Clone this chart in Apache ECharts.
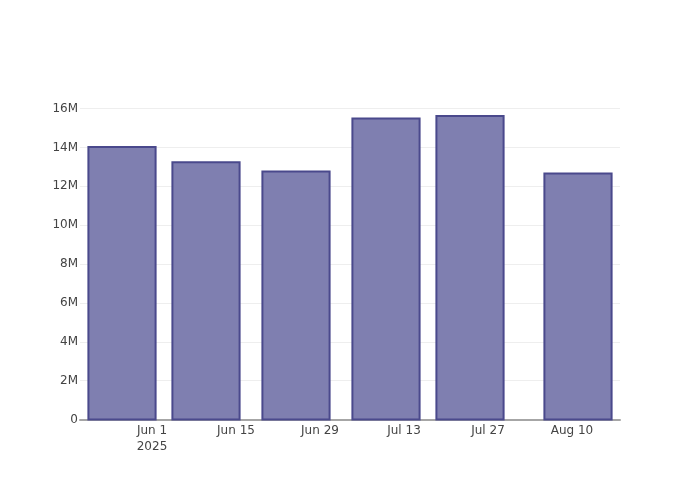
<!DOCTYPE html>
<html>
<head>
<meta charset="utf-8">
<script src="https://cdn.jsdelivr.net/npm/echarts@6/dist/echarts.min.js"></script>
<style>html,body{margin:0;padding:0;background:#fff;}#chart{width:700px;height:500px;}</style>
</head>
<body>
<div id="chart"></div>
<script>
// Data
var dates = ['2025-05-27', '2025-06-10', '2025-06-25', '2025-07-10', '2025-07-24', '2025-08-11'];
var values = [14020000, 13240000, 12760000, 15480000, 15610000, 12650000];
var yTicks = [0, 2000000, 4000000, 6000000, 8000000, 10000000, 12000000, 14000000, 16000000];
var xTickDates = ['2025-06-01', '2025-06-15', '2025-06-29', '2025-07-13', '2025-07-27', '2025-08-10'];
var xRange = ['2025-05-20', '2025-08-18'];
var barDays = 11.2;

var DAY = 86400000;
var origin = Date.UTC(2025, 5, 1); // Jun 1, 2025 -> 0
function toDay(s) {
  var p = s.split('-');
  return Math.round((Date.UTC(+p[0], +p[1] - 1, +p[2]) - origin) / DAY);
}
var months = ['Jan','Feb','Mar','Apr','May','Jun','Jul','Aug','Sep','Oct','Nov','Dec'];
var tickDays = xTickDates.map(toDay);
var data = dates.map(function (d, i) { return [toDay(d), values[i]]; });

var chart = echarts.init(document.getElementById('chart'), null, { renderer: 'canvas' });
var font = 'DejaVu Sans';
chart.setOption({
  animation: false,
  backgroundColor: '#fff',
  grid: { left: 80, right: 80, top: 108.5, bottom: 80.5, containLabel: false },
  xAxis: {
    type: 'value',
    min: toDay(xRange[0]),
    max: toDay(xRange[1]),
    axisLine: { show: true, onZero: false, lineStyle: { color: '#a6a6a6', width: 2 } },
    axisTick: { show: false },
    splitLine: { show: false },
    axisLabel: {
      customValues: tickDays,
      margin: 3,
      color: '#444',
      fontFamily: font,
      fontSize: 12,
      lineHeight: 16,
      formatter: function (v) {
        var d = new Date(origin + Math.round(v) * DAY);
        var s = months[d.getUTCMonth()] + ' ' + d.getUTCDate();
        if (Math.round(v) === tickDays[0]) s += '\n' + d.getUTCFullYear();
        return s;
      }
    }
  },
  yAxis: {
    type: 'value',
    min: yTicks[0],
    max: yTicks[yTicks.length - 1],
    interval: yTicks[1] - yTicks[0],
    axisLine: { show: false },
    axisTick: { show: false },
    splitLine: { show: true, lineStyle: { color: '#eeeeee', width: 1 } },
    axisLabel: {
      margin: 2,
      color: '#444',
      fontFamily: font,
      fontSize: 12,
      formatter: function (v) { return v === 0 ? '0' : (v / 1000000) + 'M'; }
    }
  },
  series: [{
    type: 'custom',
    data: data,
    encode: { x: 0, y: 1 },
    z: 1,
    renderItem: function (params, api) {
      var x = api.value(0), y = api.value(1);
      var p1 = api.coord([x - barDays / 2, y]);
      var p2 = api.coord([x + barDays / 2, 0]);
      return {
        type: 'rect',
        shape: { x: p1[0], y: p1[1], width: p2[0] - p1[0], height: p2[1] - p1[1] },
        style: { fill: 'rgb(127,127,176)', stroke: 'rgb(74,73,140)', lineWidth: 2 }
      };
    }
  }]
});
</script>
</body>
</html>
